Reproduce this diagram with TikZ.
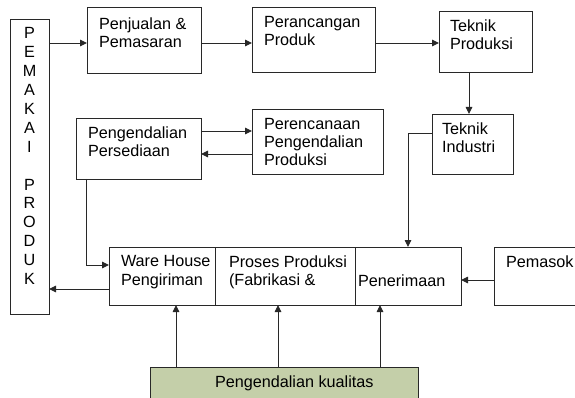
\documentclass[tikz,border=0pt]{standalone}
\usepackage{fontspec}
\setmainfont{Liberation Sans}
\usetikzlibrary{arrows.meta}
\definecolor{kualfill}{RGB}{196,207,169}
\definecolor{edge}{RGB}{40,40,40}
\begin{document}
\begin{tikzpicture}[x=1pt,y=-1pt,
  box/.style={draw=edge, line width=0.9pt, rectangle, inner sep=0pt, outer sep=0pt, anchor=north west},
  txt/.style={inner sep=0pt, outer sep=0pt, anchor=north west, align=left,
              font=\fontsize{16.2}{18.2}\selectfont},
  arr/.style={draw=edge, line width=0.9pt, -{Triangle[length=7pt,width=6.5pt]}},
  ln/.style={draw=edge, line width=0.9pt}]
  \useasboundingbox (0,0) rectangle (575,398);
  \clip (0,0) rectangle (575,398);

  % boxes
  \node[box, minimum width=39pt,  minimum height=295pt] (pemakai) at (10,19)  {};
  \node[box, minimum width=114pt, minimum height=66pt]  (penj)    at (87,7)   {};
  \node[box, minimum width=123pt, minimum height=65pt]  (peran)   at (252,7)  {};
  \node[box, minimum width=93pt,  minimum height=61pt]  (tprod)   at (439,11) {};
  \node[box, minimum width=81pt,  minimum height=60pt]  (tind)    at (432,114){};
  \node[box, minimum width=131pt, minimum height=65pt]  (renc)    at (252,109){};
  \node[box, minimum width=125pt, minimum height=61pt]  (sedia)   at (76,118) {};
  \node[box, minimum width=106pt, minimum height=58pt]  (ware)    at (109,247){};
  \node[box, minimum width=140pt, minimum height=58pt]  (proses)  at (215,247){};
  \node[box, minimum width=106pt, minimum height=58pt]  (terima)  at (355,247){};
  \node[box, minimum width=100pt, minimum height=58pt]  (pemasok) at (494,247){};
  \node[box, fill=kualfill, minimum width=268pt, minimum height=50pt] (kual) at (150,367){};

  % labels
  \node[inner sep=0pt, anchor=north, align=center,
        font=\fontsize{16.2}{18.9}\selectfont] (pemakai-t) at (29.5,27.5)
        {P\\E\\M\\A\\K\\A\\I\\{}\\P\\R\\O\\D\\U\\K};
  \node[txt] (penj-t)    at (99,18)     {Penjualan \&\\Pemasaran};
  \node[txt] (peran-t)   at (264,16)    {Perancangan\\Produk};
  \node[txt] (tprod-t)   at (450,19.3)  {Teknik\\Produksi};
  \node[txt] (tind-t)    at (442,122.7) {Teknik\\Industri};
  \node[txt] (renc-t)    at (264,118.3) {Perencanaan\\Pengendalian\\Produksi};
  \node[txt] (sedia-t)   at (88,126.7)  {Pengendalian\\Persediaan};
  \node[txt] (ware-t)    at (121,255.7) {Ware House\\Pengiriman};
  \node[txt] (proses-t)  at (229,255.7) {Proses Produksi\\(Fabrikasi \&};
  \node[txt] (terima-t)  at (358,275)   {Penerimaan};
  \node[txt] (pemasok-t) at (506,256)   {Pemasok};
  \node[txt] (kual-t)    at (215,375.7) {Pengendalian kualitas};

  % routing points
  \coordinate (r1) at (0,43);
  \coordinate (r2) at (408,133);
  \coordinate (r3) at (86,265);
  \coordinate (c1) at (469,0);
  \coordinate (h1) at (0,131);
  \coordinate (h2) at (0,154);
  \coordinate (h3) at (0,289);
  \coordinate (h4) at (0,280);
  \coordinate (v1) at (176,0);
  \coordinate (v2) at (278,0);
  \coordinate (v3) at (380,0);

  % connectors
  \draw[arr] (pemakai.east |- r1) -- (penj.west |- r1);
  \draw[arr] (penj.east |- r1) -- (peran.west |- r1);
  \draw[arr] (peran.east |- r1) -- (tprod.west |- r1);
  \draw[arr] (tprod.south -| c1) -- (tind.north -| c1);
  \draw[arr] (tind.west |- r2) -- (r2) -- (terima.north -| r2);
  \draw[arr] (sedia.east |- h1) -- (renc.west |- h1);
  \draw[arr] (renc.west |- h2) -- (sedia.east |- h2);
  \draw[arr] (sedia.south -| r3) -- (r3) -- (ware.west |- r3);
  \draw[arr] (ware.west |- h3) -- (pemakai.east |- h3);
  \draw[arr] (pemasok.west |- h4) -- (terima.east |- h4);
  \draw[arr] (kual.north -| v1) -- (ware.south -| v1);
  \draw[arr] (kual.north -| v2) -- (proses.south -| v2);
  \draw[arr] (kual.north -| v3) -- (terima.south -| v3);
\end{tikzpicture}
\end{document}
